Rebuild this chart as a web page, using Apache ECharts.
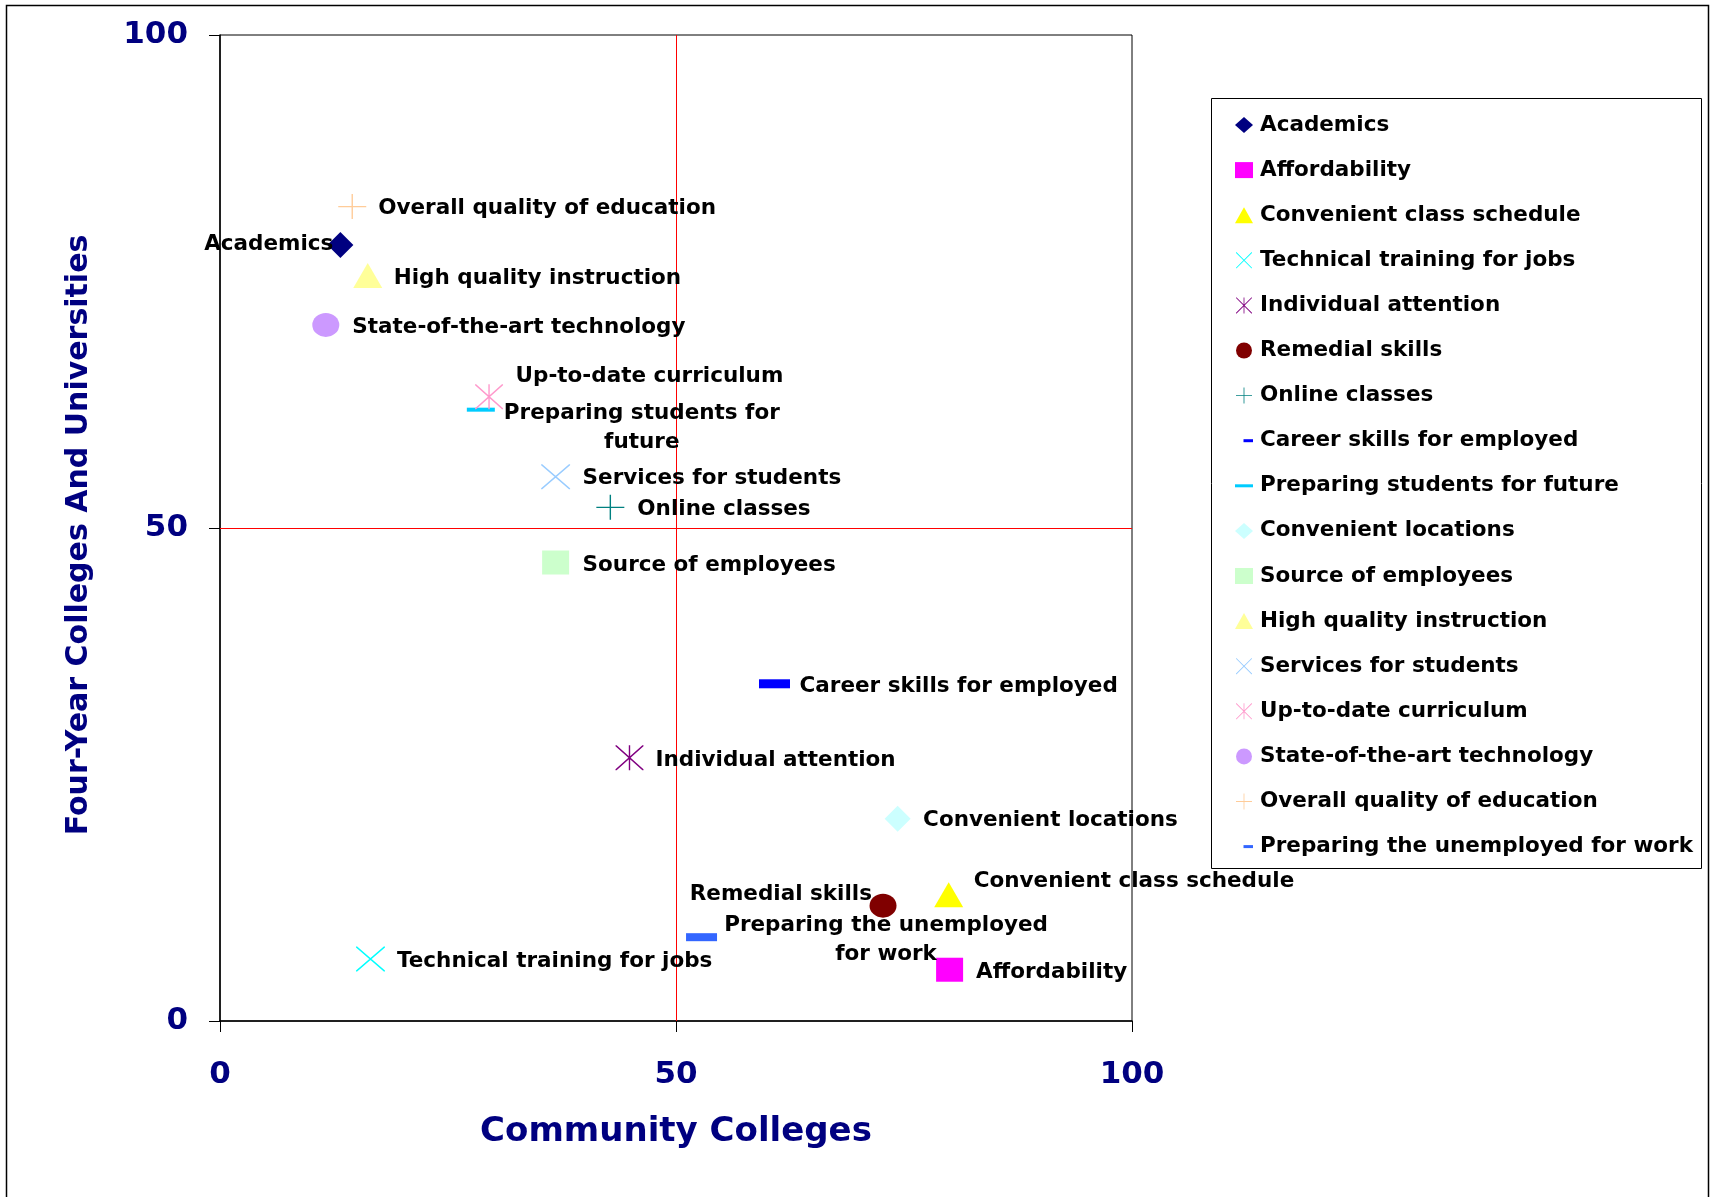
<!DOCTYPE html>
<html>
<head>
<meta charset="utf-8">
<title>Community Colleges vs Four-Year Colleges</title>
<script src="https://cdn.jsdelivr.net/npm/echarts@6/dist/echarts.min.js"></script>
<style>
  html, body { margin: 0; padding: 0; background: #fff; }
  #chart { width: 1711px; height: 1197px; }
</style>
</head>
<body>
<div id="chart"></div>
<script>
// Attributes rated for each type of institution (legend order)
const categories = [
  'Academics',
  'Affordability',
  'Convenient class schedule',
  'Technical training for jobs',
  'Individual attention',
  'Remedial skills',
  'Online classes',
  'Career skills for employed',
  'Preparing students for future',
  'Convenient locations',
  'Source of employees',
  'High quality instruction',
  'Services for students',
  'Up-to-date curriculum',
  'State-of-the-art technology',
  'Overall quality of education',
  'Preparing the unemployed for work'
];

// Community colleges score (x)
const communityColleges = [13.2, 80.0, 79.9, 16.5, 44.9, 72.7, 42.8, 60.8, 28.6, 74.3, 36.8, 16.2, 36.8, 29.5, 11.6, 14.5, 52.8];

// Four-year colleges and universities score (y)
const fourYearColleges = [78.7, 5.2, 12.8, 6.3, 26.7, 11.7, 52.1, 34.2, 62.0, 20.5, 46.5, 75.6, 55.2, 63.3, 70.6, 82.6, 8.5];

// Axis tick values (both axes)
const axisTicks = [0, 50, 100];

// Quadrant dividers
const dividerX = 50;
const dividerY = 50;

// ---------- marker shapes ----------
const FONT = "'DejaVu Sans', sans-serif";
const X_PATH = 'path://M0,0 L4,0 L100,96 L100,100 L96,100 L0,4 Z M100,0 L100,4 L4,100 L0,100 L0,96 L96,0 Z';
const PLUS_PATH = 'path://M47.5,0 L52.5,0 L52.5,100 L47.5,100 Z M0,47.5 L100,47.5 L100,52.5 L0,52.5 Z';
const STAR_PATH = X_PATH + ' M47.5,0 L52.5,0 L52.5,100 L47.5,100 Z';
const SHORT_DASH = 'path://M0,0 M18,16 M8.5,6.5 L18,6.5 L18,9.5 L8.5,9.5 Z';
const LONG_DASH = 'path://M0,0 M18,16 M0,6.5 L18,6.5 L18,9.5 L0,9.5 Z';

// Per-series look: symbol, size, colour, legend icon and label placement
const seriesLook = [
  { symbol: 'diamond',  size: [26, 26], color: '#000080', icon: 'diamond',  pos: 'left',  dx: 6,    dy: -1 },
  { symbol: 'rect',     size: [27, 24], color: '#FF00FF', icon: 'rect',     pos: 'right', dx: 13,   dy: 2.5 },
  { symbol: 'triangle', size: [29, 25], color: '#FFFF00', icon: 'triangle', pos: 'right', dx: 10.5, dy: -13 },
  { symbol: X_PATH,     size: [29, 25], color: '#00FFFF', icon: X_PATH,     pos: 'right', dx: 12,   dy: 2.5 },
  { symbol: STAR_PATH,  size: [28, 25], color: '#800080', icon: STAR_PATH,  pos: 'right', dx: 12,   dy: 2.5 },
  { symbol: 'circle',   size: [27, 24], color: '#800000', icon: 'circle',   pos: 'left',  dx: 2.5,  dy: -11.5 },
  { symbol: PLUS_PATH,  size: [28, 25], color: '#008080', icon: PLUS_PATH,  pos: 'right', dx: 13,   dy: 2.5 },
  { symbol: 'rect',     size: [31, 9],  color: '#0000FF', icon: SHORT_DASH, pos: 'right', dx: 9.5,  dy: 2.5 },
  { symbol: 'rect',     size: [28, 4],  color: '#00CCFF', icon: LONG_DASH,  pos: 'right', dx: 147,  dy: 18, align: 'center' },
  { symbol: 'diamond',  size: [26, 26], color: '#CCFFFF', icon: 'diamond',  pos: 'right', dx: 12.5, dy: 1.5 },
  { symbol: 'rect',     size: [27, 24], color: '#CCFFCC', icon: 'rect',     pos: 'right', dx: 13.5, dy: 2.5 },
  { symbol: 'triangle', size: [29, 25], color: '#FFFF99', icon: 'triangle', pos: 'right', dx: 11.5, dy: 2.5 },
  { symbol: X_PATH,     size: [29, 25], color: '#99CCFF', icon: X_PATH,     pos: 'right', dx: 12.5, dy: 2 },
  { symbol: STAR_PATH,  size: [28, 25], color: '#FF99CC', icon: STAR_PATH,  pos: 'right', dx: 12.5, dy: -20 },
  { symbol: 'circle',   size: [27, 24], color: '#CC99FF', icon: 'circle',   pos: 'right', dx: 13,   dy: 2.5 },
  { symbol: PLUS_PATH,  size: [28, 25], color: '#FFCC99', icon: PLUS_PATH,  pos: 'right', dx: 12,   dy: 2 },
  { symbol: 'rect',     size: [31, 8],  color: '#3366FF', icon: SHORT_DASH, pos: 'right', dx: 169,  dy: 3, align: 'center' }
];

// Wrapped point labels
const labelText = {
  'Preparing students for future': 'Preparing students for\nfuture',
  'Preparing the unemployed for work': 'Preparing the unemployed\nfor work'
};

const series = categories.map((name, i) => {
  const look = seriesLook[i];
  const s = {
    name: name,
    type: 'scatter',
    symbol: look.symbol,
    symbolSize: look.size,
    itemStyle: { color: look.color, opacity: 1 },
    data: [[communityColleges[i], fourYearColleges[i]]],
    label: {
      show: true,
      position: look.pos,
      distance: 0,
      offset: [look.dx, look.dy],
      formatter: () => labelText[name] || name,
      fontFamily: FONT,
      fontWeight: 'bold',
      fontSize: 21.5,
      lineHeight: 29,
      color: '#000'
    },
    emphasis: { disabled: true },
    z: 3
  };
  if (look.align) s.label.align = look.align;
  if (i === 0) {
    s.markLine = {
      silent: true,
      symbol: ['none', 'none'],
      label: { show: false },
      lineStyle: { color: '#FF0000', width: 1, type: 'solid' },
      emphasis: { disabled: true },
      data: [{ xAxis: dividerX }, { yAxis: dividerY }],
      z: 1
    };
  }
  return s;
});

const tickStep = axisTicks[1] - axisTicks[0];
const tickLabelStyle = {
  color: '#000080',
  fontFamily: FONT,
  fontWeight: 'bold',
  fontSize: 31
};

const chart = echarts.init(document.getElementById('chart'), null, { renderer: 'canvas' });
chart.setOption({
  animation: false,
  backgroundColor: '#fff',
  grid: {
    left: 220, top: 35, width: 912, height: 986,
    show: true, borderColor: '#000', borderWidth: 1, backgroundColor: 'transparent'
  },
  xAxis: {
    type: 'value',
    min: axisTicks[0], max: axisTicks[axisTicks.length - 1], interval: tickStep,
    name: 'Community Colleges',
    nameLocation: 'middle',
    nameGap: 94,
    nameTextStyle: { color: '#000080', fontFamily: FONT, fontWeight: 'bold', fontSize: 34 },
    axisLine: { show: true, lineStyle: { color: '#000', width: 1.5 } },
    axisTick: { show: true, length: 11, lineStyle: { color: '#000' } },
    axisLabel: Object.assign({ margin: 38 }, tickLabelStyle),
    splitLine: { show: false }
  },
  yAxis: {
    type: 'value',
    min: axisTicks[0], max: axisTicks[axisTicks.length - 1], interval: tickStep,
    axisLine: { show: true, lineStyle: { color: '#000', width: 1.5 } },
    axisTick: { show: true, length: 11, lineStyle: { color: '#000' } },
    axisLabel: Object.assign({ margin: 32 }, tickLabelStyle),
    splitLine: { show: false }
  },
  legend: {
    orient: 'vertical',
    left: 1235,
    top: 113,
    padding: 0,
    itemWidth: 18,
    itemHeight: 16,
    itemGap: 21.1,
    selectedMode: false,
    symbolKeepAspect: true,
    textStyle: {
      fontFamily: FONT, fontWeight: 'bold', fontSize: 21.5, color: '#000',
      lineHeight: 24, padding: [0, 0, 0, 2]
    },
    data: categories.map((name, i) => ({ name: name, icon: seriesLook[i].icon }))
  },
  graphic: [
    {
      type: 'rect', silent: true, z: -1,
      shape: { x: 6.5, y: 5.5, width: 1702, height: 1230 },
      style: { fill: 'none', stroke: '#000', lineWidth: 1.5 }
    },
    {
      type: 'rect', silent: true, z: -1,
      shape: { x: 1211.5, y: 98.5, width: 490, height: 770 },
      style: { fill: '#fff', stroke: '#000', lineWidth: 1 }
    },
    {
      // y-axis title
      type: 'text', silent: true,
      x: 79, y: 535, rotation: Math.PI / 2,
      style: {
        text: 'Four-Year Colleges And Universities',
        fill: '#000080',
        font: "bold 30px 'DejaVu Sans', sans-serif",
        align: 'center',
        verticalAlign: 'middle'
      }
    }
  ],
  series: series
});
</script>
</body>
</html>
